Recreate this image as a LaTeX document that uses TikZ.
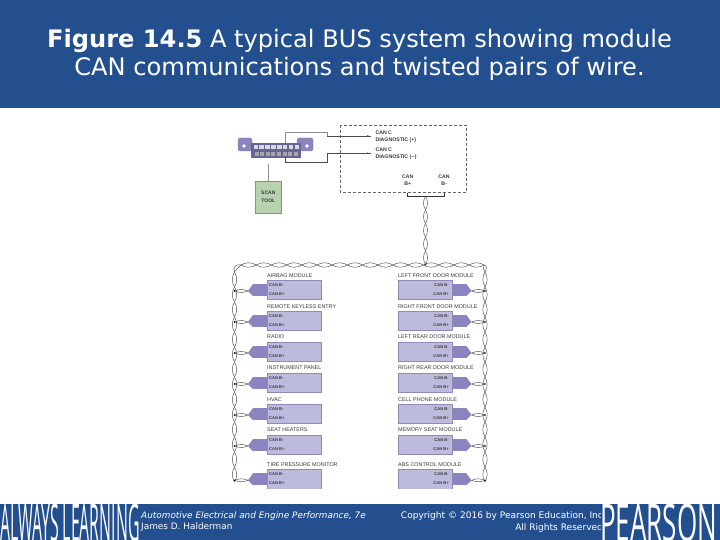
\documentclass[tikz,border=0pt]{standalone}
\usepackage{fontspec}
\setmainfont{DejaVu Sans}
\newfontfamily\lib{Liberation Sans}
\newfontfamily\opn{Open Sans}
\definecolor{band}{HTML}{234F8F}
\definecolor{modfill}{HTML}{BDBBDD}
\definecolor{tabfill}{HTML}{8A85BE}
\definecolor{modedge}{HTML}{8F8BB5}
\definecolor{txt}{HTML}{3A3A3A}
\definecolor{tool}{HTML}{B6D2AE}
\tikzset{
 modbox/.style={draw=modedge,line width=.5pt,fill=modfill,minimum width=53.7pt,minimum height=19.3pt,inner sep=0pt,anchor=north west},
 tabbox/.style={draw=none,fill=tabfill,minimum width=14pt,minimum height=12pt,inner sep=0pt},
 modlabel/.style={font=\lib\fontsize{5.4}{6}\selectfont,text=txt,inner sep=0pt},
 canlabel/.style={font=\lib\bfseries\fontsize{4.1}{4}\selectfont,text=txt,inner sep=0pt},
 toplabel/.style={font=\lib\bfseries\fontsize{5.2}{7}\selectfont,text=txt,inner sep=0pt},
 titletext/.style={font=\fontsize{24.1}{28}\selectfont,text=white,inner sep=0pt,align=center},
 foot/.style={font=\fontsize{8.9}{10}\selectfont,text=white,inner sep=0pt},
 footr/.style={font=\fontsize{9.05}{10}\selectfont,text=white,inner sep=0pt},
 logo/.style={font=\opn\fontsize{52}{52}\selectfont,text=white,inner sep=0pt},
 wire/.style={draw=black!70,line width=.45pt},
 graywire/.style={draw=black!45,line width=.5pt},
 junction/.style={circle,fill=black,inner sep=0pt,minimum size=1.6pt},
}
\newcommand{\lens}[2]{\draw[wire] #1 to[bend left=30] #2; \draw[wire] #1 to[bend right=30] #2;}
\begin{document}
\begin{tikzpicture}[x=1pt,y=-1pt]
\useasboundingbox (0,0) rectangle (720,540);
\fill[white] (0,0) rectangle (720,540);
\begin{scope}
\clip (0,0) rectangle (720,540);
\fill[band] (0,0) rectangle (720,108);
\fill[band] (0,504) rectangle (720,540);
\node[titletext] (title1) at (359.5,41) {\textbf{Figure 14.5} A typical BUS system showing module};
\node[titletext] (title2) at (359.5,69) {CAN communications and twisted pairs of wire.};
% footer
\node[foot,anchor=west] (f1) at (141,516) {\itshape Automotive Electrical and Engine Performance, 7e};
\node[foot,anchor=west] (f2) at (141,527) {James D. Halderman};
\begin{scope}
\clip (380,504) rectangle (600,540);
\node[footr,anchor=east] (f3) at (606,516) {Copyright © 2016 by Pearson Education, Inc.};
\node[footr,anchor=east] (f4) at (606,527.5) {All Rights Reserved.};
\end{scope}
\node[logo,anchor=base west,xscale=.305] (lg1) at (0,541) {ALWAYS LEARNING};
\node[logo,anchor=base west,xscale=.5] (lg2) at (600,541) {PEARSON};
\end{scope}
% dashed box
\draw[black!60,line width=.5pt,dash pattern=on 3pt off 2pt] (340.3,125) rectangle (466,192.7);
\node[toplabel,anchor=west] (d1a) at (375.3,133) {CAN C};
\node[toplabel,anchor=west] (d1b) at (375.3,140) {DIAGNOSTIC (+)};
\node[toplabel,anchor=west] (d2a) at (375.3,150) {CAN C};
\node[toplabel,anchor=west] (d2b) at (375.3,157) {DIAGNOSTIC (--)};
\node[toplabel,align=center] (canp) at (407.7,180.5) {CAN\\B+};
\node[toplabel,align=center] (canm) at (444,180.5) {CAN\\B-};
% connector
\node[draw=modedge,fill=tabfill,rounded corners=1.5pt,minimum width=14pt,minimum height=13pt,inner sep=0pt] (earL) at (245,144.5) {};
\node[draw=modedge,fill=tabfill,rounded corners=1.5pt,minimum width=16pt,minimum height=13pt,inner sep=0pt] (earR) at (305,144.5) {};
\node[circle,fill=white,inner sep=0pt,minimum size=3.6pt] (holeL) at (244,146) {};
\node[circle,fill=white,inner sep=0pt,minimum size=3.6pt] (holeR) at (307,146) {};
\node[fill=black!70!blue!60,minimum width=50pt,minimum height=15pt,inner sep=0pt] (obd) at (276,150.5) {};
\foreach \k in {0,...,7}{
 \fill[white!85!black] ({253.5+\k*5.9},145) rectangle ++(4.4,3.8);
 \fill[white!65!black] ({254.5+\k*5.6},152) rectangle ++(4,3.8);
}
% scan tool
\node[draw=black!45,fill=tool,line width=.5pt,minimum width=25.3pt,minimum height=32pt,inner sep=0pt,font=\lib\bfseries\fontsize{5}{8}\selectfont,text=txt,align=center] (scan) at (268.3,197) {SCAN\\TOOL};
\coordinate (scanup) at (268.3,164);
\draw[graywire] (scanup) -- (scan.north);
% diagnostic wires
\coordinate (ua) at (285,143); \coordinate (ub) at (285,132.3); \coordinate (uc) at (327.3,132.3); \coordinate (ud) at (327.3,136); \coordinate (ue) at (371,136);
\coordinate (la) at (285,157); \coordinate (lb) at (285,162.7); \coordinate (lc) at (327.3,162.7); \coordinate (ld) at (327.3,153.3); \coordinate (le) at (371,153.3);
\draw[graywire] (ua) -- (ub) -- (uc) -- (ud);
\draw[wire] (ud) -- (ue);
\draw[wire] (la) -- (lb) -- (lc) -- (ld) -- (le);
\fill[black!75] (367,135.2) -- (369.5,136) -- (367,136.8) -- cycle;
\fill[black!75] (367,152.5) -- (369.5,153.3) -- (367,154.1) -- cycle;
% bracket and trunk
\coordinate (ba) at (407,192.7); \coordinate (bb) at (407,196.3); \coordinate (bc) at (444.3,196.3); \coordinate (bd) at (444.3,192.7);
\draw[black!80,line width=.55pt] (ba) -- (bb) -- (bc) -- (bd);
\foreach \k in {0,...,4}{ \lens{(425.5,{196.3+\k*13.64})}{(425.5,{196.3+(\k+1)*13.64})} }
\node[junction] (tj) at (425.5,264.5) {};
% bus: twisted pair drawn as a chain of lenses
\foreach \k in {0,...,15}{ \lens{({241+\k*15.2},265)}{({241+(\k+1)*15.2},265)} }
\foreach \k in {0,...,13}{
 \lens{(234.5,{272+\k*15})}{(234.5,{272+(\k+1)*15})}
 \lens{(485,{272+\k*15})}{(485,{272+(\k+1)*15})}
}
\draw[wire] (234.5,272) .. controls (232.5,267) and (236,263.5) .. (241,265);
\draw[wire] (234.5,272) .. controls (237,270) and (238,267) .. (241,265);
\draw[wire] (484.2,265) .. controls (483,267) and (483,270) .. (485,272);
\draw[wire] (484.2,265) .. controls (487,265) and (487,270) .. (485,272);
% modules
\foreach \i/\y/\yt/\a/\b in {
 1/280/275.7/AIRBAG MODULE/LEFT FRONT DOOR MODULE,
 2/311/307/REMOTE KEYLESS ENTRY/RIGHT FRONT DOOR MODULE,
 3/342/337/RADIO/LEFT REAR DOOR MODULE,
 4/373/368/INSTRUMENT PANEL/RIGHT REAR DOOR MODULE,
 5/404/399.5/HVAC/CELL PHONE MODULE,
 6/435/430/SEAT HEATERS/MEMORY SEAT MODULE,
 7/469.3/465/TIRE PRESSURE MONITOR/ABS CONTROL MODULE}{
 \begin{scope}
 \clip (220,260) rectangle (500,488.5);
 \node[tabbox] (LT\i) at (260.3,\y+10) {};
 \node[tabbox] (RT\i) at (459,\y+10) {};
 \node[modbox] (LM\i) at (267.3,\y) {};
 \node[modbox] (RM\i) at (398.3,\y) {};
 \coordinate (Lt\i) at (248,\y+11);
 \coordinate (Rt\i) at (471.5,\y+11);
 \coordinate (Lb\i) at (234.5,\y+11);
 \coordinate (Rb\i) at (485,\y+11);
 \fill[tabfill] (LT\i.north west) -- (Lt\i) -- (LT\i.south west) -- cycle;
 \fill[tabfill] (RT\i.north east) -- (Rt\i) -- (RT\i.south east) -- cycle;
 \draw[wire] (Lt\i) to[bend left=22] (Lb\i);
 \draw[wire] (Lt\i) to[bend right=22] (Lb\i);
 \draw[wire] (Rt\i) to[bend left=22] (Rb\i);
 \draw[wire] (Rt\i) to[bend right=22] (Rb\i);
 \node[junction] (Lj\i) at (Lb\i) {};
 \node[junction] (Rj\i) at (Rb\i) {};
 \node[canlabel,anchor=west] (La\i) at (269,\y+5) {CAN B-};
 \node[canlabel,anchor=west] (Lc\i) at (269,\y+14) {CAN B+};
 \node[canlabel,anchor=east] (Ra\i) at (449,\y+5) {CAN B-};
 \node[canlabel,anchor=east] (Rc\i) at (449,\y+14) {CAN B+};
 \end{scope}
 \node[modlabel,anchor=west] (Ln\i) at (267,\yt) {\a};
 \node[modlabel,anchor=west] (Rn\i) at (398,\yt) {\b};
}
\end{tikzpicture}
\end{document}
